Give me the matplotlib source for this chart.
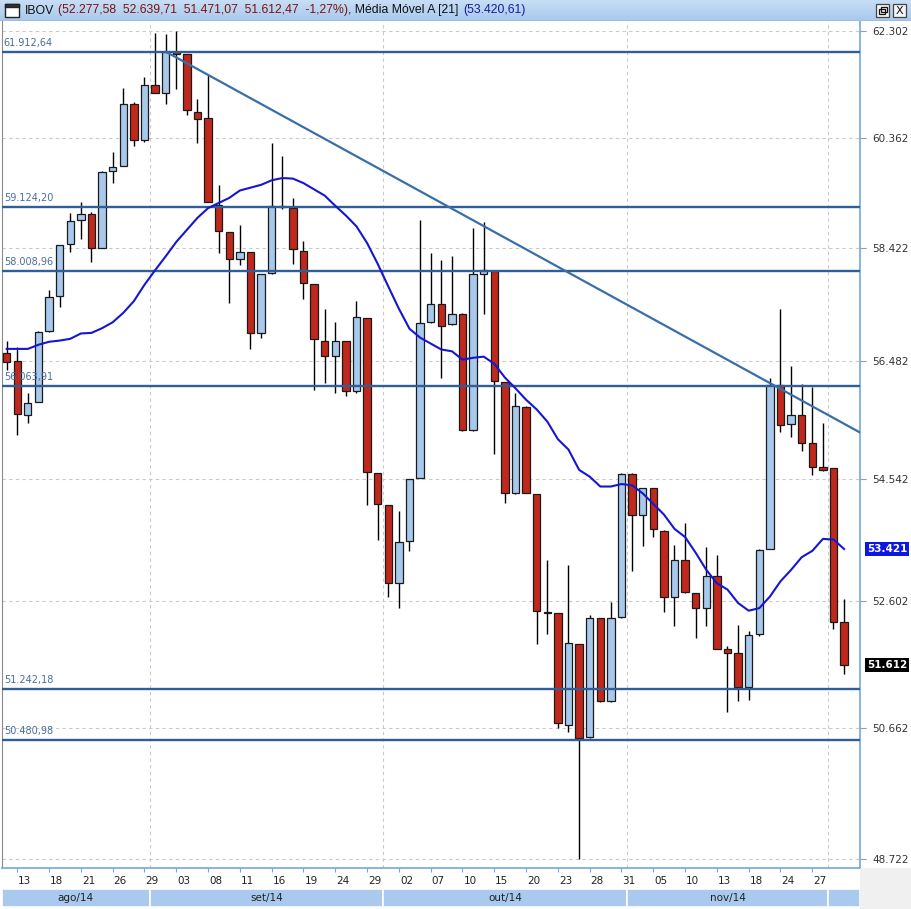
import matplotlib
matplotlib.use("Agg")
import matplotlib.pyplot as plt
import numpy as np
from matplotlib.patches import Rectangle
from matplotlib.ticker import NullLocator
from matplotlib.transforms import blended_transform_factory, ScaledTranslation

# ---------------- data (index points, thousands) ----------------
opens = [56.62, 56.48, 55.59, 55.81, 56.99, 57.59, 58.48, 58.90, 59.01, 58.42,
         59.76, 59.86, 60.97, 60.31, 61.31, 61.17, 61.92, 61.87, 60.82, 60.71,
         59.16, 58.70, 58.22, 58.34, 56.96, 57.98, 59.13, 59.11, 58.36, 57.80,
         56.82, 56.57, 56.82, 55.99, 57.22, 54.64, 54.13, 52.88, 53.54, 54.55,
         57.14, 57.45, 57.11, 57.28, 55.34, 57.97, 58.02, 56.13, 54.31, 55.72,
         54.30, 52.43, 52.41, 50.70, 51.94, 50.52, 52.34, 51.06, 52.35, 54.63,
         53.96, 54.39, 53.71, 52.66, 53.24, 52.72, 52.49, 52.99, 51.85, 51.79,
         51.28, 52.09, 53.42, 56.09, 55.44, 55.58, 55.12, 54.74, 54.72, 52.278]
highs = [56.83, 56.73, 55.96, 56.99, 57.69, 58.47, 59.03, 59.21, 59.05, 59.76,
         60.10, 61.26, 61.01, 61.46, 62.27, 62.25, 62.302, 61.87, 61.05, 61.49,
         59.51, 58.70, 58.81, 58.35, 57.97, 60.26, 60.04, 59.28, 58.53, 57.80,
         57.36, 57.15, 56.82, 57.51, 57.22, 54.64, 54.13, 54.03, 54.54, 58.91,
         58.33, 58.21, 58.27, 57.29, 58.76, 58.86, 58.02, 56.13, 55.96, 55.73,
         54.30, 53.24, 52.42, 53.16, 51.94, 52.39, 52.34, 52.59, 54.64, 54.64,
         54.39, 54.40, 53.72, 53.49, 53.84, 52.73, 53.45, 53.33, 51.91, 52.23,
         52.13, 53.42, 56.20, 57.37, 56.41, 56.10, 56.06, 55.45, 54.72, 52.640]
lows = [56.34, 55.26, 55.45, 55.80, 56.98, 57.40, 58.34, 58.57, 58.18, 58.41,
        59.55, 59.85, 60.21, 60.29, 61.16, 60.97, 61.23, 60.76, 60.27, 59.22,
        58.32, 57.47, 58.12, 56.69, 56.87, 57.97, 59.10, 58.14, 57.53, 56.01,
        56.12, 55.96, 55.90, 55.96, 54.13, 53.57, 52.66, 52.49, 53.39, 54.55,
        57.13, 56.20, 57.10, 55.33, 55.33, 57.28, 54.94, 54.16, 54.30, 54.31,
        51.93, 52.09, 50.66, 50.60, 48.722, 50.51, 51.05, 51.05, 52.34, 53.07,
        53.47, 53.61, 52.43, 52.21, 52.73, 52.03, 52.21, 51.85, 50.89, 51.06,
        51.07, 52.05, 53.42, 55.31, 55.23, 54.99, 54.61, 54.67, 52.17, 51.471]
closes = [56.47, 55.61, 55.79, 56.98, 57.57, 58.46, 58.88, 59.01, 58.42, 59.75,
          59.84, 60.97, 60.31, 61.31, 61.17, 61.92, 61.88, 60.85, 60.70, 59.22,
          58.71, 58.22, 58.34, 56.96, 57.97, 59.14, 59.15, 58.39, 57.81, 56.85,
          56.57, 56.83, 55.99, 57.23, 54.66, 54.14, 52.88, 53.53, 54.54, 57.13,
          57.45, 57.07, 57.28, 55.34, 57.97, 58.03, 56.15, 54.31, 55.73, 54.32,
          52.44, 52.42, 50.73, 51.95, 50.50, 52.34, 51.06, 52.34, 54.63, 53.96,
          54.39, 53.73, 52.66, 53.24, 52.74, 52.49, 52.99, 51.86, 51.80, 51.28,
          52.08, 53.41, 56.08, 55.42, 55.58, 55.13, 54.74, 54.68, 52.28, 51.612]
ma21 = [56.69, 56.69, 56.69, 56.76, 56.81, 56.83, 56.86, 56.95, 56.96, 57.04,
        57.14, 57.30, 57.50, 57.78, 58.03, 58.27, 58.52, 58.73, 58.94, 59.11,
        59.20, 59.29, 59.42, 59.47, 59.52, 59.60, 59.64, 59.63, 59.55, 59.44,
        59.33, 59.15, 58.98, 58.79, 58.50, 58.14, 57.75, 57.37, 57.03, 56.88,
        56.78, 56.68, 56.65, 56.51, 56.54, 56.56, 56.44, 56.21, 56.03, 55.84,
        55.68, 55.48, 55.19, 55.02, 54.69, 54.58, 54.42, 54.42, 54.46, 54.44,
        54.31, 54.14, 53.97, 53.74, 53.61, 53.36, 53.09, 52.88, 52.78, 52.57,
        52.45, 52.49, 52.67, 52.91, 53.09, 53.29, 53.39, 53.58, 53.57, 53.42]

level_values = [61.91264, 59.12420, 58.00896, 56.06391, 51.24218, 50.48098]
level_labels = ["61.912,64", "59.124,20", "58.008,96", "56.063,91", "51.242,18", "50.480,98"]
trend_x = [15.1, 80.5]
trend_y = [61.91, 55.30]

y_ticks = [62.302, 60.362, 58.422, 56.482, 54.542, 52.602, 50.662, 48.722]
day_labels = ["13", "18", "21", "26", "29", "03", "08", "11", "16", "19", "24", "29",
              "02", "07", "10", "15", "20", "23", "28", "31", "05", "10", "13", "18",
              "24", "27"]
months = ["ago/14", "set/14", "out/14", "nov/14", ""]
month_days = [14, 22, 23, 19, 2]

last_ma_label = "53.421"
last_close_label = "51.612"

# (text, colour, gap in px after the segment)
title_segments = [("IBOV", "#111111", 4),
                  ("(52.277,58  52.639,71  51.471,07  51.612,47  -1,27%)", "#7c1212", 0),
                  (", Média Móvel A [21]", "#111111", 5),
                  ("(53.420,61)", "#1a1a9a", 0)]

# ---------------- figure ----------------
W, H = 912, 909
fig = plt.figure(figsize=(W / 100, H / 100), dpi=100)
fig.patch.set_facecolor("white")

def fx(px):
    return px / W

def fy(py):
    return 1 - py / H

FONT = ["Liberation Sans", "DejaVu Sans"]
XMIN, XMAX = -0.443, 80.5

# gray area bottom-right
fig.patches.append(Rectangle((fx(860), 0), 1 - fx(860), fy(868), transform=fig.transFigure,
                             facecolor="#f0f0f0", edgecolor="none", zorder=0))

ax = fig.add_axes([fx(2), fy(868), fx(860) - fx(2), fy(21) - fy(868)])
n = len(opens)
x = np.arange(n)
o = np.array(opens); c = np.array(closes); h = np.array(highs); l = np.array(lows)

ax.set_yscale("log")
ax.set_ylim(48.592, 62.487)
ax.set_xlim(XMIN, XMAX)

# grid
for v in y_ticks:
    ax.axhline(v, color="#c9c9c9", lw=0.8, ls=(0, (3, 3)), zorder=0.5)
bounds = np.cumsum(month_days)[:-1] - 0.5
for b in bounds:
    ax.axvline(b, color="#c9c9c9", lw=0.8, ls=(0, (3, 3)), zorder=0.5)

# candles
up = c >= o
body_col = np.where(up, "#a8c8ec", "#c0281c")
ax.vlines(x, l, h, color="black", lw=1.0, zorder=2)
ax.bar(x, np.abs(c - o), bottom=np.minimum(o, c), width=0.68, color=body_col,
       edgecolor="#1a1a1a", linewidth=0.9, zorder=3)

# horizontal levels
tr = blended_transform_factory(ax.transAxes, ax.transData)
for v, lab in zip(level_values, level_labels):
    ax.axhline(v, color="#2f5e98", lw=1.7, zorder=4)
    ax.text(0.002, v * 1.0012, lab, transform=tr, ha="left", va="bottom",
            fontsize=7, color="#4a6d9a", zorder=5)

# trend line and moving average
ax.plot(trend_x, trend_y, color="#3a6ea6", lw=1.6, zorder=4)
ax.plot(x, ma21, color="#1616d0", lw=1.5, zorder=4.5)

# axes styling
ax.yaxis.tick_right()
ax.yaxis.set_minor_locator(NullLocator())
ax.set_yticks(y_ticks)
ax.set_yticklabels([f"{v:.3f}" for v in y_ticks])
ax.tick_params(axis="y", length=4, color="#9a9a9a", labelsize=7.5, labelcolor="#333333", pad=5)
xt = [1 + 3 * k for k in range(len(day_labels))]
ax.set_xticks(xt)
ax.set_xticklabels(day_labels)
ax.xaxis.set_minor_locator(NullLocator())
ax.tick_params(axis="x", length=3, color="#6fa8dc", labelsize=7.5, labelcolor="#222222", pad=3)
shift = ScaledTranslation(1.0 / 100, 0, fig.dpi_scale_trans)
for lab in ax.get_xticklabels():
    lab.set_ha("left")
    lab.set_transform(lab.get_transform() + shift)
for s in ["right", "bottom"]:
    ax.spines[s].set_color("#6fa8dc")
    ax.spines[s].set_linewidth(1.2)
ax.spines["top"].set_visible(False)
ax.spines["left"].set_color("#8a8a8a")

# right-side highlighted values
tr2 = blended_transform_factory(ax.transAxes, ax.transData)
ax.text(1.008, ma21[-1], last_ma_label, transform=tr2, ha="left", va="center",
        fontsize=7.5, fontweight="bold", color="white",
        bbox=dict(boxstyle="square,pad=0.2", fc="#0c18e0", ec="none"), clip_on=False)
ax.text(1.008, closes[-1], last_close_label, transform=tr2, ha="left", va="center",
        fontsize=7.5, fontweight="bold", color="white",
        bbox=dict(boxstyle="square,pad=0.2", fc="#000000", ec="none"), clip_on=False)

# month bar
mx = fig.add_axes([fx(2), fy(907), fx(860) - fx(2), (907 - 889) / H])
mx.set_xlim(XMIN, XMAX)
mx.set_ylim(0, 1)
mx.axis("off")
start = -0.5
for k, (name, cnt) in enumerate(zip(months, month_days)):
    left = max(start, XMIN)
    right = XMAX if k == len(months) - 1 else start + cnt
    mx.add_patch(Rectangle((left, 0), right - left, 1, facecolor="#a9c9ef",
                           edgecolor="white", lw=1.2))
    if name:
        mx.text((left + right) / 2, 0.5, name, ha="center", va="center",
                fontsize=7.5, color="#222222")
    start += cnt

# title bar
tb = fig.add_axes([0, fy(21), 1, 21 / H])
grad = np.linspace(0, 1, 21).reshape(-1, 1)
top_col = np.array([0.78, 0.87, 0.96])
bot_col = np.array([0.66, 0.79, 0.93])
img = top_col[None, None, :] * (1 - grad[:, :, None]) + bot_col[None, None, :] * grad[:, :, None]
tb.imshow(img, aspect="auto", extent=[0, W, 21, 0])
tb.set_xlim(0, W)
tb.set_ylim(21, 0)
tb.axis("off")
tb.plot([0, W], [20.5, 20.5], color="#8c8c8c", lw=1)
tb.add_patch(Rectangle((5, 4), 14, 13, facecolor="white", edgecolor="#222222", lw=1.0))
tb.add_patch(Rectangle((5, 4), 14, 3, facecolor="#333333", edgecolor="#222222", lw=1.0))
tb.add_patch(Rectangle((876, 4), 13, 13, facecolor="#f4f4f4", edgecolor="#444444", lw=0.9))
tb.add_patch(Rectangle((893, 4), 13, 13, facecolor="#f4f4f4", edgecolor="#444444", lw=0.9))
tb.add_patch(Rectangle((879, 9), 6, 5, facecolor="none", edgecolor="#111111", lw=0.9))
tb.add_patch(Rectangle((881, 7), 6, 5, facecolor="none", edgecolor="#111111", lw=0.9))
tb.text(899.5, 10.5, "X", ha="center", va="center", fontsize=8, color="#111111")

renderer = fig.canvas.get_renderer()
# measure at a reference size, then fit the title to its width in the reference (~503 px)
probe = [fig.text(0, 0, s, fontsize=10, family=FONT) for s, _, _ in title_segments]
widths = [t.get_window_extent(renderer).width for t in probe]
for t in probe:
    t.remove()
gaps = sum(g for _, _, g in title_segments)
fs = 10 * (503 - gaps) / sum(widths)
xpos = 25
for s, col, gap in title_segments:
    t = fig.text(fx(xpos), fy(10.5), s, color=col, fontsize=fs, ha="left", va="center",
                 family=FONT)
    xpos += t.get_window_extent(renderer).width + gap

fig.savefig("out.png", dpi=100)
